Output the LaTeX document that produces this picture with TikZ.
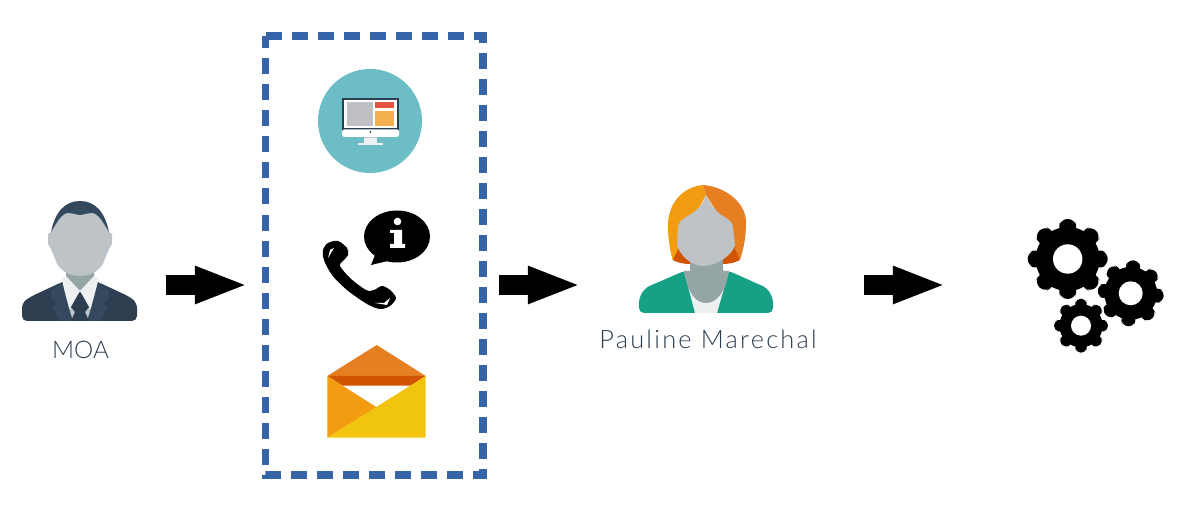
\documentclass[tikz,border=0pt]{standalone}
\usepackage{fontspec}
\setmainfont[LetterSpace=9]{Lato Light}
\usetikzlibrary{positioning}
\usetikzlibrary{arrows.meta}
\definecolor{navy}{HTML}{2C3E50}
\definecolor{slate}{HTML}{34495E}
\definecolor{skin}{HTML}{BDC3C7}
\definecolor{neck}{HTML}{95A5A6}
\definecolor{shirt}{HTML}{ECF0F1}
\definecolor{amber}{HTML}{F39C12}
\definecolor{carrot}{HTML}{E67E22}
\definecolor{rust}{HTML}{D35400}
\definecolor{sun}{HTML}{F1C40F}
\definecolor{teal}{HTML}{16A085}
\definecolor{lagoon}{HTML}{6CBDC5}
\definecolor{boxblue}{HTML}{3565A8}
\definecolor{pane}{HTML}{BFC0C3}
\definecolor{tomato}{HTML}{E15241}
\definecolor{honey}{HTML}{F2B04F}
\newcommand{\gearicon}[5]{% x, y, outer, hole, rotation
  \fill (#1,#2) circle ({0.8*#3});
  \foreach \a in {0,45,...,315}
    \fill[rounded corners={0.05pt*#3}, shift={(#1,#2)}, rotate=\a+#5]
      ({-0.22*#3},0) -- ({-0.22*#3},{-0.78*#3}) -- ({-0.18*#3},{-#3}) -- ({0.18*#3},{-#3}) -- ({0.22*#3},{-0.78*#3}) -- ({0.22*#3},0) -- cycle;
  \fill[white] (#1,#2) circle (#4);
}
\begin{document}
\begin{tikzpicture}[x=0.01cm,y=-0.01cm,
    flow arrow/.style={line width=0.2cm,-{Triangle[length=0.53cm,width=0.34cm,sep=0pt]}},
    name label/.style={font=\fontsize{7.2}{9}\selectfont,text=navy,inner sep=0pt},
    dash line/.style={draw=boxblue,line width=0.075cm,dash pattern=on 0.16cm off 0.10cm},
    frame box/.style={minimum width=2.16cm,minimum height=4.373cm,inner sep=0pt}]
  \useasboundingbox (0,0) rectangle (1191,507);

  % man
  \fill[navy,rounded corners=0.05cm] (22,321) -- (22,303) -- (30,297) -- (62,282) -- (98,282) -- (130,297) -- (137,303) -- (137,321) -- cycle;
  \fill[neck] (66,268) -- (94,268) -- (94,282) -- (80,293) -- (66,282) -- cycle;
  \fill[skin] (69,302) -- (91,302) -- (90,321) -- (70,321) -- cycle;
  \fill[shirt] (62,279) -- (66,276) -- (80,291) -- (94,276) -- (99,279) -- (92,312) -- (80,291) -- (68,312) -- cycle;
  \fill[slate] (51,290) -- (62,282) -- (70,312) -- (73,321) -- (60,321) -- (51,306) -- (58,305) -- (51,299) -- cycle;
  \fill[slate] (109,290) -- (98,282) -- (90,312) -- (87,321) -- (100,321) -- (109,306) -- (102,305) -- (109,299) -- cycle;
  \fill[navy] (80,292) -- (89,307) -- (85,312) -- (89,321) -- (71,321) -- (75,312) -- (71,307) -- cycle;
  \fill[skin] (51,232) -- (48,234) -- (48,244) .. controls (52,250) and (54,256) .. (57,264) .. controls (62,272) and (71,276) .. (80,276) .. controls (89,276) and (98,272) .. (103,264) .. controls (106,256) and (108,250) .. (112,244) -- (112,234) -- (109,232) -- (100,210) -- (60,210) -- cycle;
  \fill[slate] (51,232) .. controls (55,212) and (65,201) .. (80,201) .. controls (95,201) and (105,212) .. (109,232) .. controls (103,222) and (98,213) .. (92,213) .. controls (87,213) and (84,215) .. (80,215) .. controls (76,215) and (73,213) .. (68,213) .. controls (62,213) and (57,222) .. (51,232) -- cycle;
  \coordinate (moa) at (80,321);
  \node[name label,font=\fontsize{6.9}{9}\selectfont\addfontfeature{LetterSpace=0}] (moalabel) at (80.5,349.5) {MOA};

  % dashed frame
  \node[frame box] (frame) at (374.3,255.7) {};
  \draw[dash line] (frame.north west) -- (frame.north east) -- (frame.south east) -- (frame.south west) -- cycle;

  % screen
  \fill[lagoon] (370,121) circle (52);
  \fill[navy] (342,98) rectangle (399,130);
  \fill[white] (344,100) rectangle (397,128);
  \fill[shirt] (364,137) rectangle (377,143);
  \fill[skin] (364,137) rectangle (377,138.5);
  \fill[white,rounded corners=0.5pt] (342,129.5) rectangle (399,137);
  \fill[shirt] (358,143) rectangle (383,145);
  \fill[navy] (370.3,132) circle (1);
  \fill[pane] (347,102) rectangle (373,126);
  \fill[tomato] (375,102) rectangle (394,108);
  \fill[honey] (375,111) rectangle (394,126);

  % phone
  \fill[black] plot[smooth cycle,tension=0.5] coordinates {(323,250) (328,243) (338,241) (347,248) (348,255) (342,262) (340,266) (350,278) (366,290) (374,290) (382,286) (390,290) (396,298) (390,306) (380,309) (367,304) (347,290) (332,275) (324,260)};
  \fill[white] (330,250) -- (334,248) -- (328,258) -- cycle;
  \fill[white] (375,303) -- (387,305) -- (390,298) -- (384,303) -- cycle;
  \fill[black] (397,236.5) ellipse (33 and 26);
  \fill[black] (377,250) -- (371,265) -- (392,260) -- cycle;
  \fill[white] (397.5,221.5) circle (3.8);
  \fill[white] (390,230) -- (402,230) -- (402,244) -- (405,244) -- (405,248) -- (390,248) -- (390,244) -- (394,244) -- (394,233) -- (390,233) -- cycle;

  % envelope
  \fill[carrot] (376.7,345) -- (425.7,376) -- (327.3,376) -- cycle;
  \fill[rust] (327.3,376) -- (425.7,376) -- (410.7,385.7) -- (342.7,385.7) -- cycle;
  \fill[amber] (327.3,376) -- (376.7,407.3) -- (327.3,437.7) -- cycle;
  \fill[sun] (425.7,376) -- (425.7,437.7) -- (327.3,437.7) -- cycle;

  % woman
  \fill[teal,rounded corners=0.05cm] (639,313) -- (639,298) -- (645,288) -- (684,271) -- (729,271) -- (767,288) -- (773,298) -- (773,313) -- cycle;
  \fill[shirt] (684,271) -- (695,313) -- (717,313) -- (729,271) -- cycle;
  \fill[neck] (690,258) -- (723,258) -- (723,271) -- (729,271) .. controls (725,295) and (715,303) .. (706,303) .. controls (697,303) and (688,295) .. (684,271) -- (690,271) -- cycle;
  \fill[rust] (672.7,260) -- (678,246) -- (690,258) -- (690,264) .. controls (682,264) and (676,262) .. (672.7,260) -- cycle;
  \fill[rust] (740,260) -- (735,246) -- (723,258) -- (723,264) .. controls (731,264) and (736,262) .. (740,260) -- cycle;
  \fill[amber] (703,185) .. controls (682,187) and (668,204) .. (668,225) .. controls (668,240) and (670,250) .. (672.7,260) -- (690,225) -- (706,195) -- cycle;
  \fill[carrot] (703,185) .. controls (727,187) and (746,204) .. (746,222) .. controls (746,240) and (743,250) .. (740,260) -- (725,225) -- (706,195) -- cycle;
  \fill[skin] (706,195) .. controls (702,208) and (693,213) .. (686,217) .. controls (680,221) and (678,224) .. (678,228) -- (677,245) .. controls (680,256) and (692,266) .. (703,266) .. controls (716,266) and (732,256) .. (735,245) -- (733,228) .. controls (733,222) and (728,219) .. (723,216) .. controls (716,212) and (710,204) .. (706,195) -- cycle;
  \coordinate (pauline) at (706,313);
  \node[name label] (paulinelabel) at (708,339) {Pauline Marechal};

  % gears
  \gearicon{1067.7}{259}{40}{14.7}{0}
  \gearicon{1130.7}{293.3}{33}{12}{-5}
  \gearicon{1081}{325.7}{27}{10}{0}

  % arrows
  \coordinate (a1) at (166,285);
  \coordinate (a2) at (248,285);
  \coordinate (b1) at (499,285);
  \coordinate (b2) at (581,285);
  \coordinate (c1) at (864,285);
  \coordinate (c2) at (946,285);
  \path[flow arrow]
    (a1) edge (a2)
    (b1) edge (b2)
    (c1) edge (c2);
\end{tikzpicture}
\end{document}
